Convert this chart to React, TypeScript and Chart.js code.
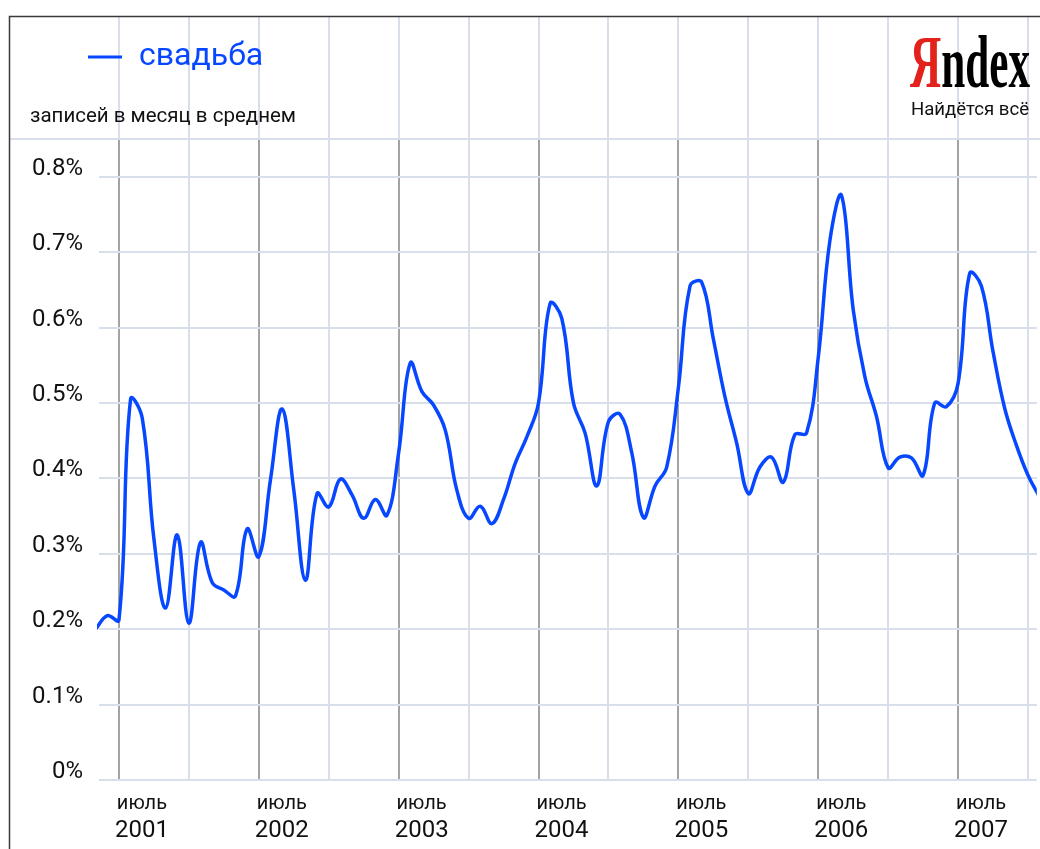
import React, { useEffect, useRef } from "react";
import { Chart, registerables } from "chart.js";

Chart.register(...registerables);

// ---- data ----
const seriesName = "свадьба";
const subtitle = "записей в месяц в среднем";
const logoRed = "Я";
const logoBlack = "ndex";
const logoSlogan = "Найдётся всё";
const monthLabel = "июль";
const baseYear = 2001;
// month index relative to July 2001 of the first value (May 2001)
const firstMonthOffset = -2;

const values2001 = [0.2, 0.218, 0.212, 0.505, 0.48, 0.32, 0.228, 0.325]; // May–Dec
const values2002 = [0.208, 0.315, 0.262, 0.252, 0.244, 0.333, 0.296, 0.398, 0.492, 0.385, 0.265, 0.38];
const values2003 = [0.362, 0.399, 0.378, 0.347, 0.372, 0.351, 0.434, 0.553, 0.515, 0.497, 0.464, 0.384];
const values2004 = [0.347, 0.363, 0.34, 0.372, 0.42, 0.455, 0.5, 0.632, 0.612, 0.5, 0.46, 0.39];
const values2005 = [0.475, 0.485, 0.434, 0.348, 0.39, 0.415, 0.52, 0.655, 0.66, 0.585, 0.508, 0.447];
const values2006 = [0.38, 0.415, 0.428, 0.395, 0.458, 0.46, 0.56, 0.715, 0.775, 0.624, 0.535, 0.482];
const values2007 = [0.414, 0.428, 0.427, 0.404, 0.5, 0.495, 0.526, 0.672, 0.655, 0.568, 0.493, 0.444];
const values2008 = [0.404, 0.375]; // Jan–Feb

const yTickValues = [0, 0.1, 0.2, 0.3, 0.4, 0.5, 0.6, 0.7, 0.8];
const xGridMonths = [0, 6, 12, 18, 24, 30, 36, 42, 48, 54, 60, 66, 72, 78];
const xJulyMonths = [0, 12, 24, 36, 48, 60, 72];

const X_MIN = -1.71;
const X_MAX = 78.76;
const Y_MAX = 0.85;

const BLUE = "#0647ff";
const LIGHT = "#d9dfea";
const DARK = "#a3a3a3";
const FONT = "Roboto";

const allValues = [
  ...values2001,
  ...values2002,
  ...values2003,
  ...values2004,
  ...values2005,
  ...values2006,
  ...values2007,
  ...values2008,
];

const decor = {
  id: "decor",
  afterDraw(chart: any) {
    const { ctx, chartArea, scales } = chart;
    const xs = scales.x;
    ctx.save();
    // light vertical lines in header area
    ctx.strokeStyle = LIGHT;
    ctx.lineWidth = 2;
    xGridMonths.forEach((m) => {
      const px = Math.round(xs.getPixelForValue(m));
      ctx.beginPath();
      ctx.moveTo(px, 17);
      ctx.lineTo(px, chartArea.top);
      ctx.stroke();
    });
    // header separator line
    ctx.beginPath();
    ctx.moveTo(9, chartArea.top);
    ctx.lineTo(1040, chartArea.top);
    ctx.stroke();
    // frame
    ctx.strokeStyle = "#3a3a3a";
    ctx.lineWidth = 1.5;
    ctx.beginPath();
    ctx.moveTo(9.5, 849);
    ctx.lineTo(9.5, 16.5);
    ctx.lineTo(1040, 16.5);
    ctx.stroke();

    // legend
    ctx.strokeStyle = BLUE;
    ctx.lineWidth = 3;
    ctx.beginPath();
    ctx.moveTo(88, 57);
    ctx.lineTo(122, 57);
    ctx.stroke();
    ctx.fillStyle = BLUE;
    ctx.font = `32px ${FONT}`;
    ctx.textBaseline = "alphabetic";
    ctx.textAlign = "left";
    ctx.fillText(seriesName, 139, 65);

    ctx.fillStyle = "#111";
    ctx.font = `20.5px ${FONT}`;
    ctx.fillText(subtitle, 30, 122);

    // logo
    ctx.font = `bold 73px "Liberation Serif"`;
    const wAll = ctx.measureText(logoRed + logoBlack).width;
    const wRed = ctx.measureText(logoRed).width;
    const sx = 120 / wAll;
    ctx.save();
    ctx.translate(910, 87);
    ctx.scale(sx, 1);
    ctx.fillStyle = "#e3231b";
    ctx.fillText(logoRed, 0, 0);
    ctx.fillStyle = "#000";
    ctx.fillText(logoBlack, wRed, 0);
    ctx.restore();

    ctx.fillStyle = "#111";
    ctx.font = `18.6px ${FONT}`;
    ctx.textAlign = "right";
    ctx.fillText(logoSlogan, 1029, 115);
    ctx.restore();
  },
};

export default function App() {
  const ref = useRef<HTMLCanvasElement | null>(null);

  useEffect(() => {
    if (!ref.current) return;
    const points = allValues.map((v, i) => ({ x: firstMonthOffset + i, y: v }));
    const chart = new Chart(ref.current, {
      type: "line",
      data: {
        datasets: [
          {
            label: seriesName,
            data: points,
            borderColor: BLUE,
            borderWidth: 3.5,
            pointRadius: 0,
            tension: 0.4,
            fill: false,
            clip: { left: 2, right: 0, top: 10, bottom: 10 } as any,
          },
        ],
      },
      options: {
        animation: false,
        responsive: false,
        maintainAspectRatio: false,
        layout: { padding: { left: 9, top: 139, right: 0, bottom: 0 } },
        plugins: { legend: { display: false }, tooltip: { enabled: false } },
        scales: {
          x: {
            type: "linear",
            position: "bottom",
            weight: 0,
            min: X_MIN,
            max: X_MAX,
            afterBuildTicks: (s: any) => {
              s.ticks = xGridMonths.map((v) => ({ value: v }));
            },
            afterFit: (s: any) => {
              s.height = 34;
            },
            grid: {
              drawTicks: false,
              lineWidth: 2,
              color: (c: any) => (c.tick && c.tick.value % 12 === 0 ? DARK : LIGHT),
            },
            border: { display: false },
            ticks: {
              autoSkip: false,
              maxRotation: 0,
              padding: 12,
              labelOffset: 23,
              color: "#111",
              font: { family: FONT, size: 20 },
              callback: (v: any) => (Number(v) % 12 === 0 ? monthLabel : ""),
            },
          },
          x2: {
            type: "linear",
            position: "bottom",
            weight: 1,
            min: X_MIN,
            max: X_MAX,
            afterBuildTicks: (s: any) => {
              s.ticks = xJulyMonths.map((v) => ({ value: v }));
            },
            afterFit: (s: any) => {
              s.height = 35;
            },
            grid: { display: false, drawTicks: false },
            border: { display: false },
            ticks: {
              autoSkip: false,
              maxRotation: 0,
              padding: 3,
              labelOffset: 23,
              color: "#111",
              font: { family: FONT, size: 24 },
              callback: (v: any) => String(baseYear + Number(v) / 12),
            },
          },
          y: {
            type: "linear",
            position: "left",
            min: 0,
            max: Y_MAX,
            afterBuildTicks: (s: any) => {
              s.ticks = yTickValues.map((v) => ({ value: v }));
            },
            afterFit: (s: any) => {
              s.width = 90;
            },
            grid: { drawTicks: false, lineWidth: 2, color: LIGHT },
            border: { display: false },
            ticks: {
              padding: 16,
              labelOffset: -8,
              color: "#111",
              font: { family: FONT, size: 24 },
              callback: (v: any) => (Number(v) === 0 ? "0%" : Number(v).toFixed(1) + "%"),
            },
          },
        },
      } as any,
      plugins: [decor],
    });
    return () => chart.destroy();
  }, []);

  return (
    <div style={{ position: "absolute", left: 0, top: 0, width: 1040, height: 849, overflow: "hidden" }}>
      <canvas ref={ref} width={1040} height={849} style={{ display: "block" }} />
    </div>
  );
}
